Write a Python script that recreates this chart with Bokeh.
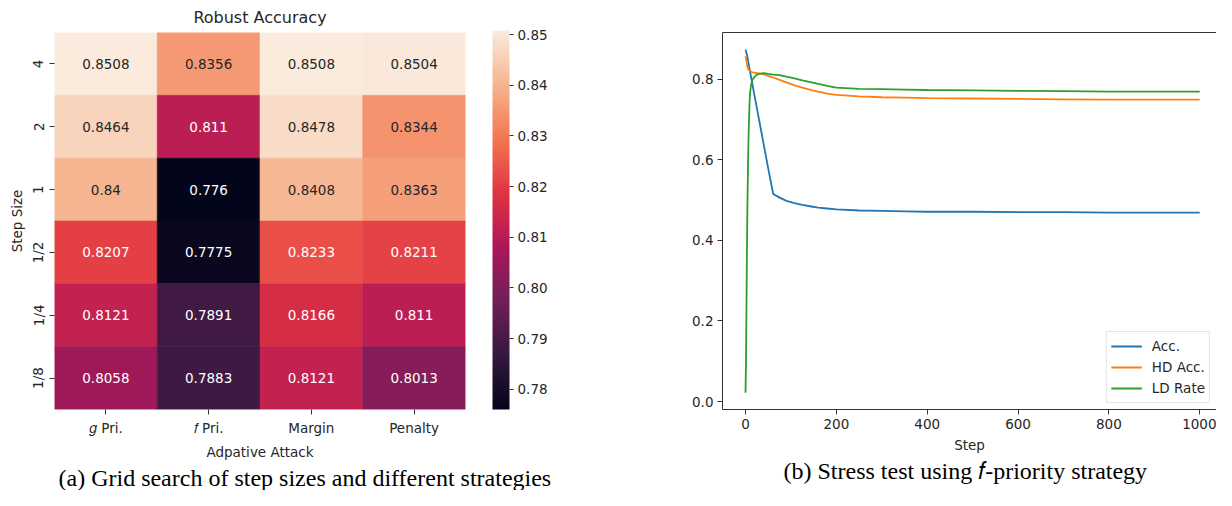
import numpy as np
from bokeh.plotting import figure
from bokeh.models import (ColumnDataSource, LinearColorMapper, ColorBar, FixedTicker,
                          FactorRange, Range1d, Title, Legend, LegendItem, LinearAxis,
                          PrintfTickFormatter)
from bokeh.transform import transform
from bokeh.layouts import row
from bokeh.embed import file_html
from bokeh.resources import INLINE
from bokeh.core.properties import value

# ---------------- data ----------------
strategies = ["𝑔 Pri.", "𝑓 Pri.", "Margin", "Penalty"]
step_sizes = ["4", "2", "1", "1/2", "1/4", "1/8"]
acc_g_pri = [0.8508, 0.8464, 0.84, 0.8207, 0.8121, 0.8058]
acc_f_pri = [0.8356, 0.811, 0.776, 0.7775, 0.7891, 0.7883]
acc_margin = [0.8508, 0.8478, 0.8408, 0.8233, 0.8166, 0.8121]
acc_penalty = [0.8504, 0.8344, 0.8363, 0.8211, 0.811, 0.8013]
cbar_ticks = [0.78, 0.79, 0.80, 0.81, 0.82, 0.83, 0.84, 0.85]

steps = [0, 1, 2, 3, 4, 5, 6, 7, 8, 9, 10, 12, 15, 20, 25, 30, 40, 50, 61, 75, 90,
         110, 125, 145, 160, 180, 200, 250, 300, 350, 400, 500, 600, 700, 800, 900, 1000]
acc = [0.873, 0.869, 0.865, 0.861, 0.857, 0.850, 0.843, 0.836, 0.830, 0.824, 0.818,
       0.806, 0.788, 0.758, 0.728, 0.698, 0.638, 0.578, 0.515, 0.506, 0.498,
       0.492, 0.488, 0.484, 0.481, 0.479, 0.477, 0.474, 0.473, 0.472, 0.471,
       0.471, 0.470, 0.470, 0.469, 0.469, 0.469]
hd_acc = [0.857, 0.851, 0.845, 0.838, 0.832, 0.828, 0.825, 0.823, 0.822, 0.821, 0.820,
          0.819, 0.817, 0.816, 0.815, 0.814, 0.812, 0.808, 0.804, 0.798, 0.792,
          0.784, 0.779, 0.773, 0.769, 0.764, 0.761, 0.757, 0.755, 0.754, 0.753,
          0.752, 0.751, 0.750, 0.749, 0.749, 0.749]
ld_rate = [0.022, 0.10, 0.22, 0.36, 0.47, 0.55, 0.62, 0.67, 0.71, 0.745, 0.765,
           0.785, 0.798, 0.806, 0.811, 0.813, 0.815, 0.813, 0.811, 0.810, 0.806,
           0.801, 0.797, 0.792, 0.788, 0.783, 0.779, 0.776, 0.775, 0.774, 0.773,
           0.772, 0.771, 0.770, 0.769, 0.769, 0.769]

FONT = "DejaVu Sans"
SERIF = "Liberation Serif"
TICK = "13.5px"
INK = "#262626"

# ---------------- rocket colormap ----------------
rocket_anchors = ["#03051a", "#35193e", "#701f57", "#ad1759",
                  "#e13342", "#f37651", "#f6b48f", "#faebdd"]
arr = np.array([[int(h[i:i + 2], 16) for i in (1, 3, 5)] for h in rocket_anchors], float)
pos = np.linspace(0, 1, len(rocket_anchors))
tt = np.linspace(0, 1, 256)
rgb = np.stack([np.interp(tt, pos, arr[:, k]) for k in range(3)], axis=1)
rocket = ["#%02x%02x%02x" % tuple(int(round(c)) for c in r) for r in rgb]

columns = [acc_g_pri, acc_f_pri, acc_margin, acc_penalty]
all_vals = [v for c in columns for v in c]
low, high = min(all_vals), max(all_vals)
mapper = LinearColorMapper(palette=rocket, low=low, high=high)


def lum(rgbrow):
    c = np.array(rgbrow) / 255.0
    c = np.where(c <= 0.03928, c / 12.92, ((c + 0.055) / 1.055) ** 2.4)
    return 0.2126 * c[0] + 0.7152 * c[1] + 0.0722 * c[2]


xs, ys, vs, labels, tcs = [], [], [], [], []
for s, col in zip(strategies, columns):
    for st, v in zip(step_sizes, col):
        xs.append(s)
        ys.append(st)
        vs.append(v)
        labels.append("{:.4g}".format(v))
        idx = int(min(255, max(0, np.floor((v - low) / (high - low) * 256))))
        tcs.append(INK if lum(rgb[idx]) > 0.33 else "#ffffff")
src = ColumnDataSource(dict(x=xs, y=ys, v=vs, label=labels, tc=tcs))

# ---------------- heatmap ----------------
pA = figure(width=600, height=490, x_range=FactorRange(*strategies),
            y_range=FactorRange(*step_sizes[::-1]), output_backend="svg",
            toolbar_location=None, min_border_left=54, min_border_right=135,
            min_border_top=31, min_border_bottom=80)
pA.outline_line_color = None
pA.grid.visible = False
pA.rect(x="x", y="y", width=1, height=1, source=src,
        fill_color=transform("v", mapper), line_color=transform("v", mapper), line_width=0.6)
pA.text(x="x", y="y", text="label", source=src, text_align="center",
        text_baseline="middle", text_color="tc", text_font=value(FONT),
        text_font_size=TICK)

for ax in (pA.xaxis[0], pA.yaxis[0]):
    ax.axis_line_color = None
    ax.major_tick_out = 5
    ax.major_tick_in = 0
    ax.major_tick_line_color = "#333333"
    ax.major_label_text_font = FONT
    ax.major_label_text_font_size = TICK
    ax.major_label_text_color = INK
    ax.axis_label_text_font = FONT
    ax.axis_label_text_font_size = TICK
    ax.axis_label_text_font_style = "normal"
    ax.axis_label_text_color = INK
pA.xaxis.axis_label = "Adpative Attack"
pA.xaxis.major_label_standoff = 5
pA.xaxis.axis_label_standoff = 5
pA.yaxis.axis_label = "Step Size"
pA.yaxis.major_label_orientation = "vertical"
pA.yaxis.major_label_standoff = 3
pA.yaxis.axis_label_standoff = 3

pA.add_layout(Title(text="Robust Accuracy", align="center", text_font=FONT,
                    text_font_size="16px", text_font_style="normal",
                    text_color=INK, standoff=11), "above")

cb = ColorBar(color_mapper=mapper, ticker=FixedTicker(ticks=cbar_ticks),
              formatter=PrintfTickFormatter(format="%.2f"), width=17, height=379,
              location=(27, 0), margin=0, padding=0, major_tick_out=4, major_tick_in=0,
              major_tick_line_color="#333333", label_standoff=4,
              major_label_text_font=FONT, major_label_text_font_size=TICK,
              major_label_text_color=INK, border_line_color=None,
              background_fill_color=None, bar_line_color=None,
              minor_tick_line_color=None)
pA.add_layout(cb, "right")

pA.add_layout(Title(text="(a) Grid search of step sizes and different strategies",
                    align="left", offset=4, text_font=SERIF, text_font_size="24px",
                    text_font_style="normal", text_color="#000000", standoff=0), "below")

# ---------------- line chart ----------------
pB = figure(width=616, height=490, x_range=Range1d(-50.7, 1037),
            y_range=Range1d(-0.0197, 0.9157), output_backend="svg",
            toolbar_location=None, min_border_left=122, min_border_right=0,
            min_border_top=32, min_border_bottom=78)
pB.outline_line_color = None
pB.grid.visible = False

r1 = pB.line(steps, acc, line_color="#1f77b4", line_width=1.8)
r2 = pB.line(steps, hd_acc, line_color="#ff7f0e", line_width=1.8)
r3 = pB.line(steps, ld_rate, line_color="#2ca02c", line_width=1.8)

pB.xaxis.ticker = FixedTicker(ticks=[0, 200, 400, 600, 800, 1000])
pB.yaxis.ticker = FixedTicker(ticks=[0.0, 0.2, 0.4, 0.6, 0.8])
pB.yaxis.formatter = PrintfTickFormatter(format="%.1f")
for ax in (pB.xaxis[0], pB.yaxis[0]):
    ax.axis_line_color = "#333333"
    ax.axis_line_width = 1
    ax.major_tick_out = 5
    ax.major_tick_in = 0
    ax.minor_tick_line_color = None
    ax.major_tick_line_color = "#333333"
    ax.major_label_text_font = FONT
    ax.major_label_text_font_size = TICK
    ax.major_label_text_color = INK
    ax.major_label_standoff = 4
    ax.axis_label_text_font = FONT
    ax.axis_label_text_font_size = TICK
    ax.axis_label_text_font_style = "normal"
    ax.axis_label_text_color = INK
pB.xaxis.axis_label = "Step"
pB.xaxis.axis_label_standoff = 5

top_axis = LinearAxis(ticker=FixedTicker(ticks=[]), axis_line_color="#333333",
                      axis_line_width=1, major_tick_line_color=None,
                      minor_tick_line_color=None, major_label_text_font_size="0px")
pB.add_layout(top_axis, "above")

legend = Legend(items=[LegendItem(label="Acc.", renderers=[r1]),
                       LegendItem(label="HD Acc.", renderers=[r2]),
                       LegendItem(label="LD Rate", renderers=[r3])],
                location="bottom_right", margin=6, padding=4, spacing=1,
                glyph_width=31, glyph_height=20, label_height=20, label_standoff=10,
                label_text_font=FONT, label_text_font_size=TICK, label_text_color=INK,
                border_line_color="#cccccc", border_line_width=1,
                background_fill_alpha=0.8)
pB.add_layout(legend)

pB.add_layout(Title(text="(b) Stress test using 𝑓-priority strategy",
                    align="left", offset=61, text_font=SERIF, text_font_size="24px",
                    text_font_style="normal", text_color="#000000", standoff=0), "below")

layout = row(pA, pB)
open("out.html", "w").write(file_html(layout, INLINE))
